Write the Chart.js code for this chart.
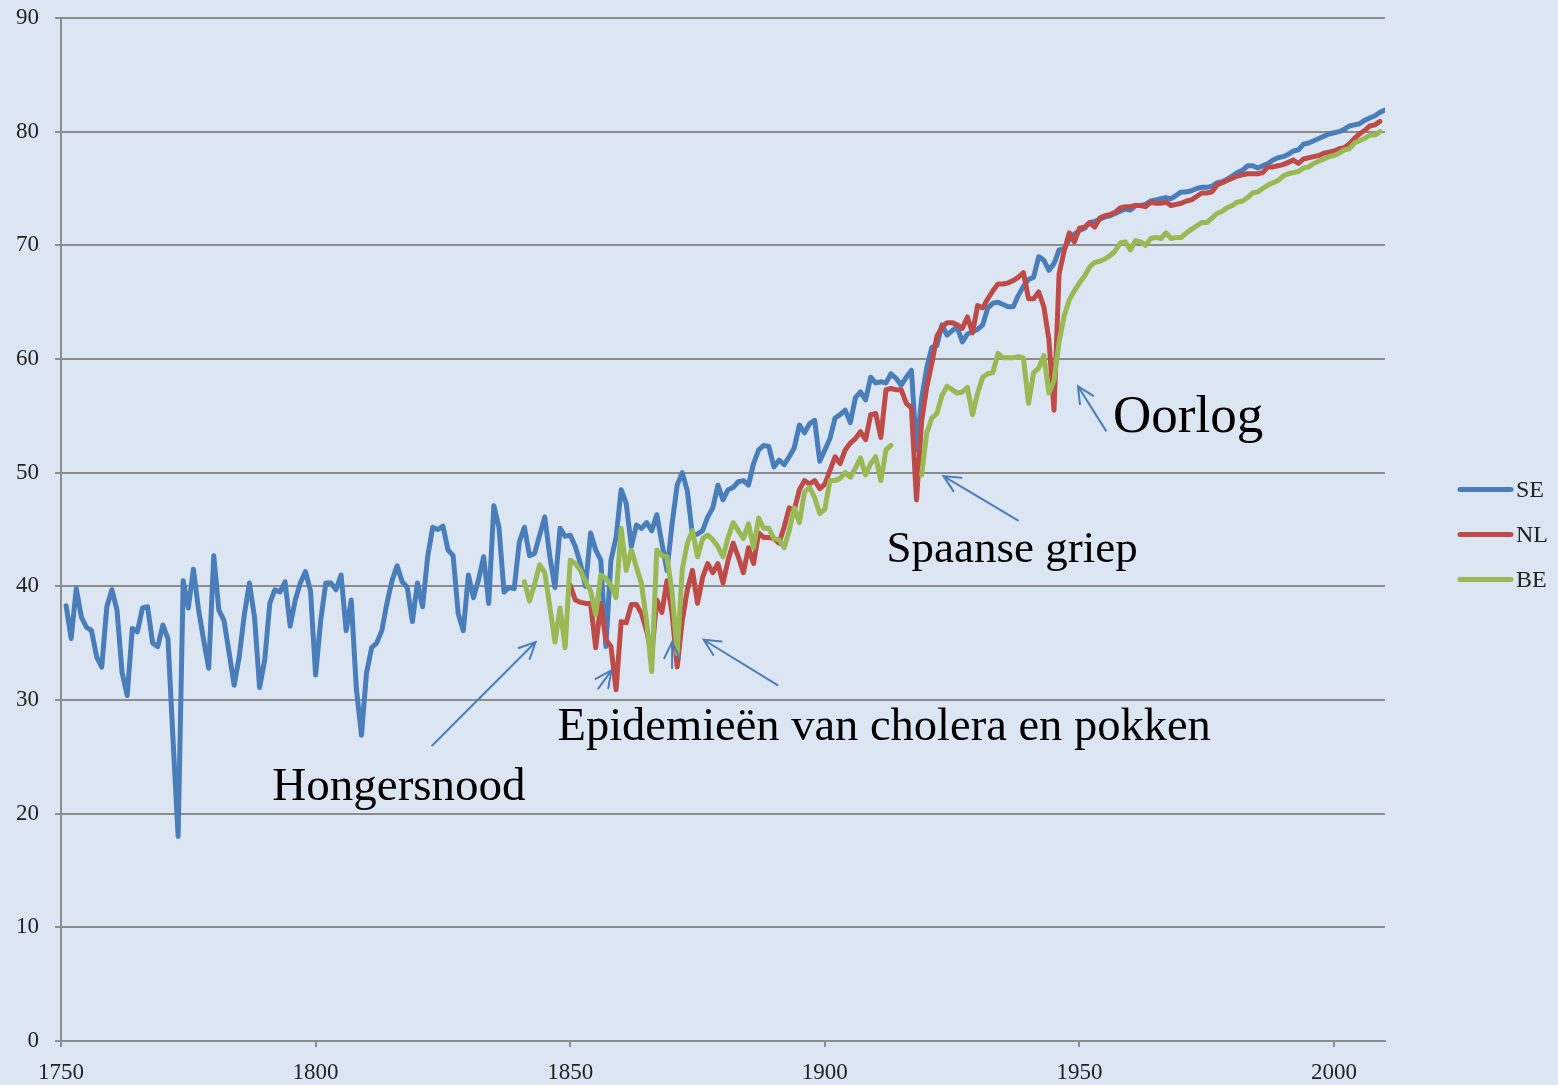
<!DOCTYPE html>
<html>
<head>
<meta charset="utf-8">
<title>Levensverwachting SE / NL / BE</title>
<script src="https://cdn.jsdelivr.net/npm/chart.js@4.4.1/dist/chart.umd.min.js"></script>
<style>
    html, body { margin: 0; padding: 0; background: #dce6f2; }
    #wrap { width: 1558px; height: 1085px; }
</style>
</head>
<body>
<div id="wrap"><canvas id="lifeChart"></canvas></div>
<script>
// Life expectancy at birth, one value per year
const seStart = 1751;
const seValues = [
    38.3, 35.4, 39.8, 37.3, 36.4, 36.1, 33.8, 32.9, 38.2,            // 1751-1759
    39.7, 37.9, 32.4, 30.4, 36.3, 36.0, 38.1, 38.2, 35.0, 34.7,      // 1760s
    36.6, 35.4, 26.5, 18.0, 40.5, 38.1, 41.5, 38.0, 35.3, 32.8,      // 1770s
    42.7, 37.9, 37.0, 34.2, 31.3, 33.8, 37.5, 40.3, 37.3, 31.1,      // 1780s
    33.5, 38.5, 39.7, 39.5, 40.4, 36.5, 38.8, 40.3, 41.3, 39.6,      // 1790s
    32.2, 37.0, 40.3, 40.3, 39.7, 41.0, 36.1, 38.8, 31.0, 26.9,      // 1800s
    32.4, 34.6, 35.0, 36.1, 38.5, 40.5, 41.8, 40.4, 39.9, 36.9,      // 1810s
    40.3, 38.2, 42.6, 45.2, 45.0, 45.3, 43.2, 42.7, 37.6, 36.1,      // 1820s
    41.0, 39.0, 40.6, 42.6, 38.5, 47.1, 45.2, 39.5, 39.9, 39.8,      // 1830s
    43.9, 45.2, 42.7, 42.9, 44.5, 46.1, 42.6, 39.9, 45.1, 44.4,      // 1840s
    44.5, 43.5, 42.0, 40.0, 44.7, 43.2, 42.3, 34.7, 42.3, 44.3,      // 1850s
    48.5, 47.3, 43.5, 45.4, 45.1, 45.6, 44.9, 46.3, 43.8, 41.4,      // 1860s
    45.5, 48.9, 50.0, 48.4, 44.5, 44.6, 44.9, 46.1, 46.9, 48.9,      // 1870s
    47.6, 48.5, 48.7, 49.2, 49.3, 48.9, 50.8, 52.0, 52.4, 52.3,      // 1880s
    50.5, 51.1, 50.7, 51.4, 52.2, 54.2, 53.5, 54.3, 54.6, 51.0,      // 1890s
    52.0, 53.0, 54.8, 55.1, 55.5, 54.4, 56.6, 57.1, 56.4, 58.4,      // 1900s
    57.9, 58.0, 57.9, 58.7, 58.3, 57.7, 58.4, 59.0, 52.0, 56.5,      // 1910s
    59.2, 61.0, 61.2, 63.0, 62.1, 62.5, 62.8, 61.5, 62.2, 62.4,      // 1920s
    62.6, 63.0, 64.5, 64.9, 65.0, 64.8, 64.6, 64.6, 65.6, 66.4,      // 1930s
    67.0, 67.2, 69.0, 68.7, 67.8, 68.4, 69.6, 69.7, 70.5, 71.0,      // 1940s
    71.3, 71.5, 72.0, 72.1, 72.3, 72.5, 72.6, 72.8, 73.0, 73.2,      // 1950s
    73.1, 73.5, 73.5, 73.6, 73.9, 74.0, 74.1, 74.2, 74.1, 74.4,      // 1960s
    74.7, 74.7, 74.8, 75.0, 75.1, 75.1, 75.2, 75.5, 75.6, 75.8,      // 1970s
    76.1, 76.4, 76.6, 77.0, 77.0, 76.8, 77.0, 77.2, 77.5, 77.7,      // 1980s
    77.8, 78.0, 78.3, 78.4, 78.9, 79.0, 79.2, 79.4, 79.6, 79.8,      // 1990s
    79.9, 80.0, 80.2, 80.5, 80.6, 80.7, 81.0, 81.2, 81.4, 81.7,      // 2000s
    81.9                                                              // 2010
];

const nlStart = 1850;
const nlValues = [
    40.1, 38.8, 38.6, 38.5, 38.5, 34.6, 38.5, 35.3, 34.7, 30.9,      // 1850s
    36.9, 36.8, 38.4, 38.4, 37.6, 36.1, 34.0, 38.8, 37.7, 40.5,      // 1860s
    37.6, 32.9, 37.0, 39.7, 41.4, 38.5, 40.8, 42.0, 41.2, 42.0,      // 1870s
    40.3, 42.3, 43.8, 42.6, 41.2, 43.4, 42.0, 44.7, 44.3, 44.3,      // 1880s
    44.2, 43.8, 45.2, 46.9, 46.7, 48.5, 49.3, 49.0, 49.3, 48.6,      // 1890s
    49.0, 50.2, 51.4, 50.8, 52.0, 52.6, 53.0, 53.6, 52.9, 55.1,      // 1900s
    55.2, 53.1, 57.3, 57.4, 57.3, 57.3, 56.1, 55.7, 47.6, 54.5,      // 1910s
    57.5, 59.6, 62.0, 62.8, 63.2, 63.2, 63.0, 62.7, 63.7, 62.3,      // 1920s
    64.7, 64.5, 65.3, 66.0, 66.6, 66.6, 66.7, 66.9, 67.2, 67.6,      // 1930s
    65.3, 65.3, 65.9, 64.6, 61.7, 55.5, 67.5, 69.5, 71.1, 70.3,      // 1940s
    71.5, 71.6, 72.0, 71.6, 72.4, 72.6, 72.7, 72.9, 73.3, 73.4,      // 1950s
    73.4, 73.5, 73.5, 73.4, 73.8, 73.7, 73.7, 73.8, 73.5, 73.6,      // 1960s
    73.7, 73.9, 74.0, 74.3, 74.6, 74.6, 74.7, 75.3, 75.5, 75.7,      // 1970s
    75.9, 76.1, 76.2, 76.3, 76.3, 76.3, 76.4, 76.9, 76.9, 77.0,      // 1980s
    77.1, 77.3, 77.5, 77.2, 77.6, 77.7, 77.8, 77.9, 78.1, 78.2,      // 1990s
    78.3, 78.5, 78.6, 78.9, 79.4, 79.8, 80.1, 80.5, 80.6, 80.9       // 2000s
];

const beStart = 1841;
const beValues = [
    40.4, 38.7, 40.2, 41.9, 41.2, 38.2, 35.1, 38.1, 34.6,            // 1841-1849
    42.3, 42.0, 41.4, 40.4, 39.6, 37.5, 41.0, 40.7, 40.1, 39.0,      // 1850s
    45.1, 41.4, 43.2, 41.7, 40.2, 36.9, 32.5, 43.2, 42.7, 42.6,      // 1860s
    39.5, 34.1, 41.5, 43.8, 44.9, 42.6, 44.2, 44.5, 44.1, 43.5,      // 1870s
    42.6, 44.3, 45.6, 44.9, 44.2, 45.5, 43.4, 46.0, 45.1, 45.1,      // 1880s
    44.2, 44.1, 43.4, 44.9, 46.9, 45.6, 48.3, 48.7, 47.8, 46.4,      // 1890s
    46.8, 49.3, 49.3, 49.5, 50.0, 49.6, 50.4, 51.3, 49.8, 50.8,      // 1900s
    51.4, 49.3, 52.0, 52.4, null, null, null, null, null, 49.8,      // 1910s (no data during WWI)
    53.5, 54.8, 55.2, 56.8, 57.6, 57.3, 57.0, 57.1, 57.5, 55.1,      // 1920s
    57.0, 58.4, 58.7, 58.8, 60.5, 60.1, 60.1, 60.1, 60.2, 60.1,      // 1930s
    56.1, 58.8, 59.2, 60.3, 57.0, 58.1, 61.5, 63.8, 65.2, 66.0,      // 1940s
    66.7, 67.3, 68.1, 68.5, 68.6, 68.8, 69.1, 69.5, 70.2, 70.3,      // 1950s
    69.6, 70.4, 70.3, 70.0, 70.6, 70.7, 70.6, 71.1, 70.6, 70.7,      // 1960s
    70.7, 71.1, 71.4, 71.7, 72.0, 72.0, 72.4, 72.8, 73.0, 73.3,      // 1970s
    73.5, 73.8, 73.9, 74.2, 74.6, 74.7, 75.0, 75.3, 75.5, 75.7,      // 1980s
    76.1, 76.3, 76.4, 76.5, 76.8, 76.9, 77.2, 77.4, 77.6, 77.8,      // 1990s
    77.9, 78.1, 78.4, 78.5, 79.0, 79.2, 79.4, 79.7, 79.7, 80.0       // 2000s
];

const seriesLabels = ["SE", "NL", "BE"];
const seriesColors = ["#4a7ebb", "#be4b48", "#98b954"];

// axis ticks
const xTicks = [1750, 1800, 1850, 1900, 1950, 2000];
const yTicks = [0, 10, 20, 30, 40, 50, 60, 70, 80, 90];

// annotations (positions in chart units: year / age)
const noteTexts = ["Oorlog", "Spaanse griep", "Epidemieën van cholera en pokken", "Hongersnood"];
const notePos = [[1956.6, 53.6], [1912.1, 42.1], [1847.5, 26.5], [1791.5, 21.2]];
const noteSizes = [53, 45, 46.5, 47];
const arrowLines = [
    [[1822.9, 26.0], [1843.2, 35.1]],
    [[1855.5, 31.0], [1858.1, 32.6]],
    [[1870.0, 32.8], [1870.0, 35.1]],
    [[1890.7, 31.3], [1876.2, 35.3]],
    [[1937.9, 45.8], [1923.3, 49.7]],
    [[1955.2, 53.7], [1949.7, 57.6]]
];

const FONT = "'Liberation Serif', 'DejaVu Serif', serif";

function toPoints(start, values) {
    return values.map((v, i) => ({ x: start + i, y: v }));
}

const notesPlugin = {
    id: "notes",
    afterDatasetsDraw(chart) {
        const { ctx, scales: { x, y } } = chart;
        ctx.save();
        // arrows
        ctx.strokeStyle = "#4a7ebb";
        ctx.lineWidth = 2;
        ctx.lineCap = "round";
        arrowLines.forEach(([from, to]) => {
            const x0 = x.getPixelForValue(from[0]), y0 = y.getPixelForValue(from[1]);
            const x1 = x.getPixelForValue(to[0]), y1 = y.getPixelForValue(to[1]);
            const ang = Math.atan2(y1 - y0, x1 - x0);
            const head = 18, spread = 0.45;
            ctx.beginPath();
            ctx.moveTo(x0, y0);
            ctx.lineTo(x1, y1);
            ctx.moveTo(x1 - head * Math.cos(ang - spread), y1 - head * Math.sin(ang - spread));
            ctx.lineTo(x1, y1);
            ctx.lineTo(x1 - head * Math.cos(ang + spread), y1 - head * Math.sin(ang + spread));
            ctx.stroke();
        });
        // texts
        ctx.fillStyle = "#000";
        ctx.textAlign = "left";
        ctx.textBaseline = "alphabetic";
        noteTexts.forEach((t, i) => {
            ctx.font = noteSizes[i] + "px " + FONT;
            ctx.fillText(t, x.getPixelForValue(notePos[i][0]), y.getPixelForValue(notePos[i][1]));
        });
        ctx.restore();
    },
    afterDraw(chart) {
        // legend on the right, vertically centred
        const { ctx, chartArea } = chart;
        const mid = (chartArea.top + chartArea.bottom) / 2 + 5;
        ctx.save();
        ctx.lineWidth = 5;
        ctx.lineCap = "round";
        ctx.font = "24px " + FONT;
        ctx.textBaseline = "middle";
        ctx.fillStyle = "#222";
        seriesLabels.forEach((lbl, i) => {
            const yy = mid + (i - 1) * 45;
            ctx.strokeStyle = seriesColors[i];
            ctx.beginPath();
            ctx.moveTo(chartArea.right + 75, yy);
            ctx.lineTo(chartArea.right + 126, yy);
            ctx.stroke();
            ctx.fillText(lbl, chartArea.right + 131, yy + 1);
        });
        ctx.restore();
    }
};

document.addEventListener("DOMContentLoaded", () => {
    const canvas = document.getElementById("lifeChart");
    canvas.width = 1558;
    canvas.height = 1085;

    const series = [
        toPoints(seStart, seValues),
        toPoints(nlStart, nlValues),
        toPoints(beStart, beValues)
    ];

    new Chart(canvas.getContext("2d"), {
        type: "line",
        data: {
            datasets: series.map((pts, i) => ({
                label: seriesLabels[i],
                data: pts,
                borderColor: seriesColors[i],
                backgroundColor: seriesColors[i],
                borderWidth: 5,
                pointRadius: 0,
                tension: 0,
                borderJoinStyle: "round",
                borderCapStyle: "round",
                spanGaps: false,
                order: 2 - i
            }))
        },
        options: {
            responsive: false,
            animation: false,
            layout: { padding: { top: 18, right: 173, left: 0, bottom: 0 } },
            plugins: { legend: { display: false }, tooltip: { enabled: false } },
            scales: {
                x: {
                    type: "linear",
                    min: xTicks[0],
                    max: 2010,
                    afterBuildTicks: (scale) => { scale.ticks = xTicks.map(v => ({ value: v })); },
                    afterFit: (scale) => {
                        scale.height = 44;
                        scale.paddingLeft = 0;
                        scale.paddingRight = 0;
                    },
                    ticks: {
                        color: "#222",
                        font: { family: FONT, size: 23 },
                        padding: 12,
                        maxRotation: 0,
                        autoSkip: false,
                        callback: (v) => String(v)
                    },
                    grid: { drawOnChartArea: false, drawTicks: true, tickLength: 6, color: "#8c8c8c", lineWidth: 2 },
                    border: { display: true, color: "#8c8c8c", width: 2 }
                },
                y: {
                    min: yTicks[0],
                    max: yTicks[yTicks.length - 1],
                    afterBuildTicks: (scale) => { scale.ticks = yTicks.map(v => ({ value: v })); },
                    afterFit: (scale) => {
                        scale.width = 61;
                        scale.paddingTop = 0;
                        scale.paddingBottom = 0;
                    },
                    ticks: {
                        color: "#222",
                        font: { family: FONT, size: 23 },
                        padding: 16,
                        callback: (v) => String(v)
                    },
                    grid: { color: "#8c8c8c", lineWidth: 2, tickLength: 6 },
                    border: { display: true, color: "#8c8c8c", width: 2 }
                }
            }
        },
        plugins: [notesPlugin]
    });
});
</script>
</body>
</html>
